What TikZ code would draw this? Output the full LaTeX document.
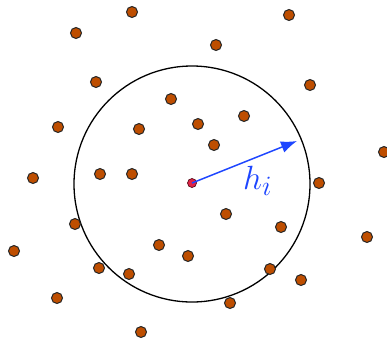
\documentclass[tikz,border=0pt]{standalone}
\usetikzlibrary{arrows.meta}
\definecolor{dotfill}{RGB}{190,78,0}
\definecolor{ctrfill}{RGB}{225,35,70}
\definecolor{arrblue}{RGB}{30,70,255}
\tikzset{
  pt/.style={circle,draw=black!85,line width=1pt,fill=dotfill,minimum size=11pt,inner sep=0pt},
  ctr/.style={circle,draw=black!60!ctrfill,line width=0.7pt,fill=ctrfill,minimum size=9pt,inner sep=0pt},
  radius arrow/.style={draw=arrblue,line width=1.5pt,-{Latex[length=16pt,width=12pt]}},
}
\begin{document}
\begin{tikzpicture}[x=1pt,y=-1pt]
\useasboundingbox (0,0) rectangle (387,341);
\node[circle,draw=black,line width=1.3pt,minimum size=236pt,inner sep=0pt] (circ) at (192,184) {};
\foreach \x/\y [count=\i] in {132/12,76/33,289/15,216/45,96/82,310/85,171/99,58/127,139/129,244/116,198/124,214/145,384/152,33/178,100/174,132/174,319/183,75/224,14/251,159/245,188/256,226/214,281/227,367/237,99/268,129/274,270/269,301/280,57/298,230/303,141/332}
  \node[pt] (p\i) at (\x,\y) {};
\node[ctr] (c) at (192,183) {};
\coordinate (tip) at (297,141);
\draw[radius arrow] (c.center) -- (tip);
\node[text=arrblue,anchor=base west,inner sep=0pt] (lbl) at (243,189) {\scalebox{1.35}{\Huge$h_i$}};
\end{tikzpicture}
\end{document}
